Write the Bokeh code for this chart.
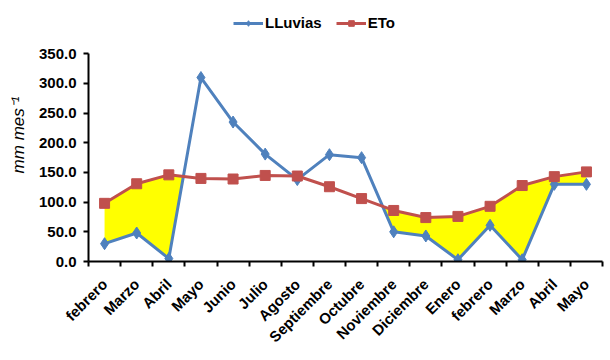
import math
from bokeh.plotting import figure
from bokeh.models import (Range1d, FixedTicker, NumeralTickFormatter, Legend, LegendItem)
from bokeh.embed import file_html
from bokeh.resources import INLINE

months = ["febrero", "Marzo", "Abril", "Mayo", "Junio", "Julio", "Agosto", "Septiembre",
          "Octubre", "Noviembre", "Diciembre", "Enero", "febrero", "Marzo", "Abril", "Mayo"]
lluvias = [30, 48, 5, 310, 235, 181, 138, 180, 175, 50, 43, 3, 61, 3, 130, 130]
eto = [98, 131, 146, 140, 139, 145, 144, 126, 106, 86, 74, 76, 93, 128, 143, 151]
y_ticks = [0, 50, 100, 150, 200, 250, 300, 350]
Y_MAX = 350

xs = [i + 0.5 for i in range(len(months))]

# fill region where ETo exceeds LLuvias (with crossing points)
fx, flo, fhi = [], [], []
for i in range(len(xs)):
    fx.append(xs[i]); flo.append(lluvias[i]); fhi.append(max(eto[i], lluvias[i]))
    if i < len(xs) - 1:
        d0 = eto[i] - lluvias[i]
        d1 = eto[i + 1] - lluvias[i + 1]
        if d0 * d1 < 0:
            t = d0 / (d0 - d1)
            xc = xs[i] + t * (xs[i + 1] - xs[i])
            yc = lluvias[i] + t * (lluvias[i + 1] - lluvias[i])
            fx.append(xc); flo.append(yc); fhi.append(yc)

BLUE = "#4F81BD"
RED = "#C0504D"
FONT = "Liberation Sans"

# frame extends above the axis top so the legend can sit inside it
TOP, BOTTOM, HEIGHT = 8, 89, 354
frame_h = HEIGHT - TOP - BOTTOM
axis_h = 211
p = figure(width=604, height=HEIGHT, output_backend="svg", toolbar_location=None,
           x_range=Range1d(0, 16), y_range=Range1d(0, Y_MAX * frame_h / axis_h))
p.min_border_left = 88
p.min_border_right = 2
p.min_border_top = TOP
p.min_border_bottom = BOTTOM
p.outline_line_color = None
p.grid.visible = False

p.varea(x=fx, y1=flo, y2=fhi, fill_color="#FFFF00", fill_alpha=1.0)

l1 = p.line(xs, lluvias, line_color=BLUE, line_width=3)
s1 = p.scatter(xs, lluvias, marker="diamond", size=12, fill_color=BLUE, line_color=BLUE)
l2 = p.line(xs, eto, line_color=RED, line_width=3)
s2 = p.scatter(xs, eto, marker="square", size=10, fill_color=RED, line_color=RED)

# x axis
xa = p.xaxis[0]
xa.ticker = FixedTicker(ticks=xs, minor_ticks=list(range(0, 17)))
xa.major_label_overrides = {x: m for x, m in zip(xs, months)}
xa.major_tick_line_color = None
xa.minor_tick_line_color = "black"
xa.minor_tick_line_width = 2
xa.minor_tick_out = 5
xa.minor_tick_in = 0
xa.axis_line_color = "black"
xa.axis_line_width = 2
xa.major_label_orientation = math.pi / 4
xa.major_label_text_font = FONT
xa.major_label_text_font_style = "bold"
xa.major_label_text_font_size = "15px"
xa.major_label_text_color = "black"
xa.major_label_standoff = 14

# y axis
ya = p.yaxis[0]
ya.bounds = (0, Y_MAX)
ya.ticker = FixedTicker(ticks=y_ticks)
ya.formatter = NumeralTickFormatter(format="0.0")
ya.major_tick_line_color = "black"
ya.major_tick_line_width = 2
ya.major_tick_out = 5
ya.major_tick_in = 0
ya.minor_tick_line_color = None
ya.axis_line_color = "black"
ya.axis_line_width = 2
ya.major_label_text_font = FONT
ya.major_label_text_font_style = "bold"
ya.major_label_text_font_size = "15px"
ya.major_label_text_color = "black"
ya.major_label_standoff = 7
ya.axis_label = "mm mes\u207b\u00b9"
ya.axis_label_text_font = FONT
ya.axis_label_text_font_style = "italic"
ya.axis_label_text_font_size = "17px"
ya.axis_label_text_color = "black"
ya.axis_label_standoff = 8

legend = Legend(items=[LegendItem(label="LLuvias", renderers=[l1, s1]),
                       LegendItem(label="ETo", renderers=[l2, s2])],
                orientation="horizontal", location=(145, frame_h - 27),
                label_text_font=FONT, label_text_font_style="bold",
                label_text_font_size="15px", label_text_color="black",
                glyph_width=30, glyph_height=14,
                label_standoff=2, spacing=14, padding=4, margin=0,
                border_line_color=None, background_fill_alpha=0)
p.add_layout(legend, "center")

open("out.html", "w").write(file_html(p, INLINE))
